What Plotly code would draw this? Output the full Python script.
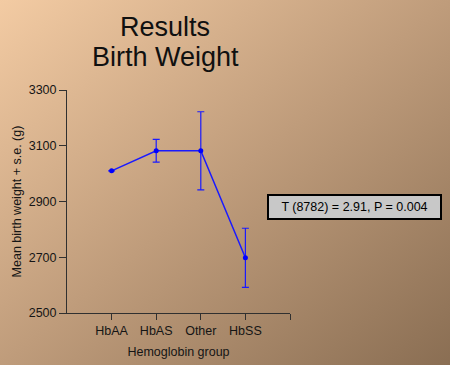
import base64
import plotly.graph_objects as go

groups = ["HbAA", "HbAS", "Other", "HbSS"]
positions = [1, 2, 3, 4]
mean_weight = [3010, 3082, 3082, 2698]
std_error = [None, 41, 140, 106]
y_ticks = [2500, 2700, 2900, 3100, 3300]
stat_text = "T (8782) = 2.91, P = 0.004"
title_lines = ["Results", "Birth Weight"]

W, H = 450, 365
ML, MR, MT, MB = 67, 160, 90, 52
PW, PH = W - ML - MR, H - MT - MB

svg = ('<svg xmlns="http://www.w3.org/2000/svg" width="450" height="365" viewBox="0 0 450 365" preserveAspectRatio="none">'
       '<defs><linearGradient id="g" x1="0" y1="0" x2="1" y2="1">'
       '<stop offset="0" stop-color="#F3CBA3"/><stop offset="0.5" stop-color="#BF9C7B"/>'
       '<stop offset="1" stop-color="#8A6E53"/></linearGradient></defs>'
       '<rect width="450" height="365" fill="url(#g)"/></svg>')
bg_src = "data:image/svg+xml;base64," + base64.b64encode(svg.encode()).decode()

fig = go.Figure()
fig.add_trace(go.Scatter(
    x=positions, y=mean_weight, mode="lines+markers",
    line=dict(color="#1a1aff", width=1.5),
    marker=dict(color="#0000ff", size=5),
    error_y=dict(type="data", array=std_error, visible=True,
                 color="#1a1aff", thickness=1.2, width=3.5),
    showlegend=False, hoverinfo="skip",
))

FONT = "Liberation Sans, Arial, sans-serif"
axis_font = dict(family=FONT, size=12.5, color="#151515")

title_ann = [dict(text=t, xref="paper", yref="paper", x=(cx - ML) / PW,
                  y=1 + (MT - cy) / PH, xanchor="center", yanchor="middle",
                  showarrow=False, font=dict(family=FONT, size=27, color="#101010"))
             for t, cx, cy in zip(title_lines, [165, 165], [27, 57])]

fig.update_layout(
    width=W, height=H, autosize=False,
    margin=dict(l=ML, r=MR, t=MT, b=MB, pad=0, autoexpand=False),
    paper_bgcolor="rgba(0,0,0,0)", plot_bgcolor="rgba(0,0,0,0)",
    font=axis_font,
    images=[dict(source=bg_src, xref="paper", yref="paper",
                 x=-ML / PW, y=1 + MT / PH, sizex=W / PW, sizey=H / PH,
                 xanchor="left", yanchor="top", sizing="stretch", layer="below")],
    xaxis=dict(range=[0, 5], tickvals=[1, 2, 3, 4, 5], ticktext=groups + [""],
               showgrid=False, zeroline=False, showline=True, linecolor="#303030",
               linewidth=1, ticks="outside", ticklen=6, tickcolor="#303030",
               automargin=False,
               title=dict(text="Hemoglobin group", standoff=10, font=axis_font),
               fixedrange=True),
    yaxis=dict(range=[2500, 3300], tickvals=y_ticks, showgrid=False, zeroline=False,
               showline=True, linecolor="#303030", linewidth=1, ticks="outside",
               ticklen=7, tickcolor="#303030", automargin=False,
               title=dict(text="Mean birth weight + s.e. (g)", standoff=4, font=axis_font),
               fixedrange=True),
    annotations=title_ann + [dict(text=stat_text, xref="paper", yref="paper",
                      x=(354.5 - ML) / PW, y=(H - MB - 207) / PH,
                      xanchor="center", yanchor="middle", showarrow=False,
                      bgcolor="#c8c8c8", bordercolor="#000000", borderwidth=2,
                      borderpad=4, width=163,
                      font=dict(family=FONT, size=12.5, color="#000000"))],
)

fig.write_html(
    "out.html",
    config={"displayModeBar": False, "responsive": False},
    post_script=("document.documentElement.style.margin='0';"
                 "document.documentElement.style.overflow='hidden';"
                 "document.body.style.margin='0';document.body.style.padding='0';"
                 "document.body.style.overflow='hidden';"),
)
